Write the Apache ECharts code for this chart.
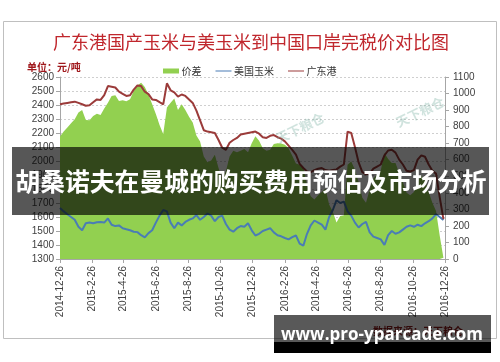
<!DOCTYPE html>
<html><head><meta charset="utf-8">
<script src="https://cdn.jsdelivr.net/npm/echarts@6/dist/echarts.min.js"></script>
<style>html,body{margin:0;padding:0;background:#fff}#c{width:500px;height:362px}</style>
</head><body><div id="c"></div>
<script>
const tickLabels = ['2014-12-26','2015-2-26','2015-4-26','2015-6-26','2015-8-26','2015-10-26','2015-12-26','2016-2-26','2016-4-26','2016-6-26','2016-8-26','2016-10-26','2016-12-26'];
// weekly observations starting 2014-12-26
const startDate = '2014-12-26';
const gdPort = [2405,2410,2415,2420,2424,2415,2405,2395,2398,2420,2440,2436,2470,2535,2530,2525,2495,2480,2465,2470,2510,2540,2535,2495,2478,2440,2436,2420,2405,2555,2505,2490,2460,2475,2465,2440,2415,2360,2290,2220,2210,2205,2200,2150,2095,2080,2130,2150,2165,2190,2195,2200,2205,2210,2195,2170,2165,2180,2185,2170,2160,2140,2110,2080,2045,1980,1950,1925,1920,1935,1945,1950,1935,1930,1935,1940,1960,1975,2210,2200,2100,1990,1920,1905,1910,1945,1960,1975,2040,2075,2080,2060,2010,1975,1930,1925,1935,2010,2040,2030,1975,1930,1910,1740,1585];
const usCorn = [1664,1640,1620,1600,1580,1530,1505,1555,1560,1555,1562,1565,1560,1590,1545,1535,1540,1520,1512,1505,1495,1492,1470,1455,1485,1505,1560,1610,1650,1640,1560,1520,1560,1540,1565,1580,1590,1614,1580,1600,1625,1610,1570,1600,1610,1550,1510,1495,1520,1535,1530,1555,1505,1468,1480,1500,1510,1520,1490,1470,1462,1450,1440,1456,1468,1410,1395,1480,1540,1575,1560,1545,1510,1600,1650,1720,1700,1710,1640,1610,1560,1525,1550,1565,1490,1460,1450,1440,1400,1470,1500,1480,1490,1510,1530,1540,1530,1545,1535,1555,1570,1590,1620,1600,1578];
const spread = [741,770,795,820,844,885,900,840,838,865,878,871,910,945,985,990,955,960,953,965,1015,1048,1065,1040,993,935,876,810,755,915,945,970,900,935,900,860,825,746,710,620,585,595,630,550,485,530,620,655,645,655,665,645,700,742,715,670,655,660,695,700,698,690,670,624,577,570,555,445,380,360,385,405,425,330,285,220,260,265,570,590,540,465,370,340,420,485,510,535,640,605,580,580,520,465,400,385,405,465,505,475,405,340,290,140,7];
const seriesNames = ['价差','美国玉米','广东港'];

function dayOf(s){const p=s.split('-').map(Number);const q=startDate.split('-').map(Number);
  return Math.round((Date.UTC(p[0],p[1]-1,p[2])-Date.UTC(q[0],q[1]-1,q[2]))/86400000);}
const tickDays = tickLabels.map(dayOf);
const labelOf = {}; tickDays.forEach((d,i)=>labelOf[d]=tickLabels[i]);
const obsDays = gdPort.map((_,i)=>i*7);

const lineIcon = 'path://M0,0L0,0Z M0,4.4L20,4.4L20,5.6L0,5.6Z M20,10L20,10Z';
const chart = echarts.init(document.getElementById('c'), null, {renderer:'canvas'});
const baseFont = 'Arial, "Liberation Sans", "Noto Sans CJK SC", sans-serif';
const cjk = '"Noto Sans CJK SC", sans-serif';
chart.setOption({
  animation:false,
  backgroundColor:'#fff',
  textStyle:{fontFamily:baseFont},
  grid:{left:60,right:55,top:77,bottom:103,containLabel:false},
  legend:{
    left:158, top:61, itemWidth:17, itemHeight:8, itemGap:14,
    textStyle:{fontSize:10,color:'#333',fontFamily:cjk,padding:[0,0,0,-3]},
    data:[{name:seriesNames[0],icon:'path://M0,2L20,2L20,8L0,8Z M0,0L0,0Z M20,10L20,10Z'},{name:seriesNames[1],icon:lineIcon},{name:seriesNames[2],icon:lineIcon}]
  },
  xAxis:{
    type:'value', min:0, max:tickDays[tickDays.length-1],
    axisLine:{show:true,lineStyle:{color:'#a6a6a6',width:1}},
    axisTick:{show:true,length:4,lineStyle:{color:'#a6a6a6'},customValues:tickDays},
    axisLabel:{rotate:90,fontSize:10,color:'#404040',margin:7,customValues:tickDays,formatter:v=>labelOf[v]||''},
    splitLine:{show:false}
  },
  yAxis:[
    {type:'value',min:1300,max:2600,interval:100,position:'left',
     axisLine:{show:true,lineStyle:{color:'#a6a6a6'}},
     axisTick:{show:true,length:4,lineStyle:{color:'#a6a6a6'}},
     axisLabel:{fontSize:10,color:'#404040',margin:6,formatter:v=>String(v)},
     splitLine:{show:true,lineStyle:{color:'#cfcfcf',type:[2,2],width:1}}},
    {type:'value',min:0,max:1100,interval:100,position:'right',
     axisLine:{show:true,lineStyle:{color:'#a6a6a6'}},
     axisTick:{show:true,length:4,lineStyle:{color:'#a6a6a6'}},
     axisLabel:{fontSize:10,color:'#404040',margin:8,formatter:v=>String(v)},
     splitLine:{show:false}}
  ],
  series:[
    {name:seriesNames[0],type:'line',yAxisIndex:1,data:spread.map((v,i)=>[obsDays[i],v]),
     showSymbol:false,symbol:'none',lineStyle:{width:0,color:'#92d050'},itemStyle:{color:'#92d050'},
     areaStyle:{color:'#92d050',opacity:1},z:1},
    {name:seriesNames[1],type:'line',yAxisIndex:0,data:usCorn.map((v,i)=>[obsDays[i],v]),
     showSymbol:false,symbol:'none',lineStyle:{width:2,color:'#4a7db5'},itemStyle:{color:'#4a7db5'},z:3},
    {name:seriesNames[2],type:'line',yAxisIndex:0,data:gdPort.map((v,i)=>[obsDays[i],v]),
     showSymbol:false,symbol:'none',lineStyle:{width:2,color:'#9b3b3a'},itemStyle:{color:'#9b3b3a'},z:3}
  ],
  graphic:[
    {type:'rect',shape:{x:3.5,y:21.5,width:493,height:317},style:{fill:'none',stroke:'#bfbfbf',lineWidth:1},z:-1,silent:true},
    {type:'text',x:251,y:42,style:{text:'广东港国产玉米与美玉米到中国口岸完税价对比图',fill:'#c0272d',fontSize:18,fontFamily:cjk,textAlign:'center',textVerticalAlign:'middle'}},
    {type:'text',x:27,y:67,style:{text:'单位：元/吨',fill:'#a0181c',fontSize:10,fontWeight:'bold',fontFamily:cjk,textAlign:'left',textVerticalAlign:'middle'}},
    {type:'text',x:300,y:128,rotation:0.45,style:{text:'天下粮仓',fill:'rgba(120,175,160,0.35)',fontSize:13,fontWeight:'bold',fontFamily:cjk,textAlign:'center',textVerticalAlign:'middle'},z:5},
    {type:'text',x:420,y:112,rotation:0.45,style:{text:'天下粮仓',fill:'rgba(120,175,160,0.35)',fontSize:13,fontWeight:'bold',fontFamily:cjk,textAlign:'center',textVerticalAlign:'middle'},z:5},
    {type:'text',x:418,y:331,style:{text:'数据来源：天下粮仓',fill:'#8b1a1a',fontSize:10,fontWeight:'bold',fontFamily:cjk,textAlign:'center',textVerticalAlign:'middle'},z:5},
    {type:'rect',shape:{x:12,y:147,width:477,height:68},style:{fill:'rgba(0,0,0,0.66)'},z:10},
    {type:'text',x:251,y:182,style:{text:'胡桑诺夫在曼城的购买费用预估及市场分析',fill:'#fff',fontSize:24.8,fontWeight:'bold',fontFamily:cjk,textAlign:'center',textVerticalAlign:'middle'},z:11},
    {type:'rect',shape:{x:274,y:315,width:217,height:27},style:{fill:'rgba(0,0,0,0.65)'},z:10},
    {type:'rect',shape:{x:274,y:342,width:217,height:11},style:{fill:'#000'},z:10},
    {type:'text',x:382,y:335,style:{text:'www.pro-yparcade.com',fill:'#fff',fontSize:17,fontWeight:'bold',fontFamily:'"Open Sans", "DejaVu Sans", sans-serif',textAlign:'center',textVerticalAlign:'middle'},z:11}
  ]
});
</script></body></html>
